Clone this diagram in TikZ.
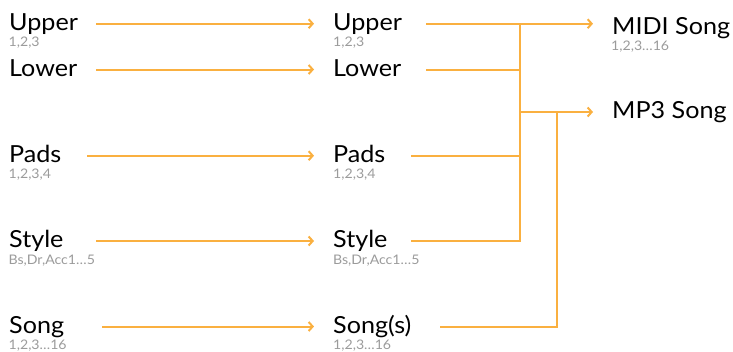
\documentclass[tikz,border=0pt]{standalone}
\usepackage{fontspec}
\setmainfont{Lato}[FakeStretch=1.07]
\usetikzlibrary{arrows.meta}
\definecolor{flow}{RGB}{250,176,64}
\definecolor{subgrey}{RGB}{155,155,155}
\begin{document}
\begin{tikzpicture}[x=1pt,y=-1pt,
  lbl/.style={anchor=west,inner sep=0pt,text height=17pt,text depth=4pt,font=\fontsize{23.5}{26}\selectfont},
  sub/.style={anchor=base west,inner sep=0pt,text=subgrey,font=\fontsize{13.2}{15}\selectfont},
  line/.style={draw=flow,line width=2pt},
  arr/.style={line,-{Straight Barb[length=4pt,width=9pt,line width=2pt]},shorten >=19pt}]
\useasboundingbox (0,0) rectangle (733,351);
% left column
\node[lbl] (lu) at (9,23.7) {Upper};
\node[sub] (lus) at (8.5,46) {1,2,3};
\node[lbl] (ll) at (9,69.5) {Lower};
\node[lbl] (lp) at (9,155.7) {Pads};
\node[sub] (lps) at (8.5,178) {1,2,3,4};
\node[lbl] (ls) at (9,241) {Style};
\node[sub] (lss) at (8.5,264) {Bs,Dr,Acc1…5};
\node[lbl] (lg) at (9,326.5) {Song};
\node[sub] (lgs) at (8.5,349.5) {1,2,3…16};
% middle column
\node[lbl] (mu) at (333,23.7) {Upper};
\node[sub] (mus) at (333,46) {1,2,3};
\node[lbl] (ml) at (333,69.5) {Lower};
\node[lbl] (mp) at (333,155.7) {Pads};
\node[sub] (mps) at (333,178) {1,2,3,4};
\node[lbl] (ms) at (333,241) {Style};
\node[sub] (mss) at (333,264) {Bs,Dr,Acc1…5};
\node[lbl] (mg) at (333,326.5) {Song(s)};
\node[sub] (mgs) at (333,349.5) {1,2,3…16};
% right column
\node[lbl] (midi) at (612,27.5) {MIDI Song};
\node[sub] (midis) at (611,50.7) {1,2,3…16};
\node[lbl] (mp3) at (612,112) {MP3 Song};
% x positions of line starts and buses
\coordinate (xa) at (96,0);
\coordinate (xp) at (87,0);
\coordinate (xg) at (102,0);
\coordinate (xm) at (426,0);
\coordinate (xn) at (411,0);
\coordinate (xq) at (440,0);
\coordinate (bus) at (519.5,0);
\coordinate (bus2) at (556.5,0);
% left to middle
\draw[arr] (lu.west -| xa) -- (mu.west);
\draw[arr] (ll.west -| xa) -- (ml.west);
\draw[arr] (lp.west -| xp) -- (mp.west);
\draw[arr] (ls.west -| xa) -- (ms.west);
\draw[arr] (lg.west -| xg) -- (mg.west);
% middle to right
\draw[arr] (mu.west -| xm) -- (midi.west |- mu.west);
\draw[line] (ml.west -| xm) -- (ml.west -| bus);
\draw[line] (mp.west -| xn) -- (mp.west -| bus);
\draw[line] (ms.west -| xn) -| (mu.west -| bus);
\draw[arr] (mp3.west -| bus) -- (mp3.west);
\draw[line] (mg.west -| xq) -| (mp3.west -| bus2);
\end{tikzpicture}
\end{document}
